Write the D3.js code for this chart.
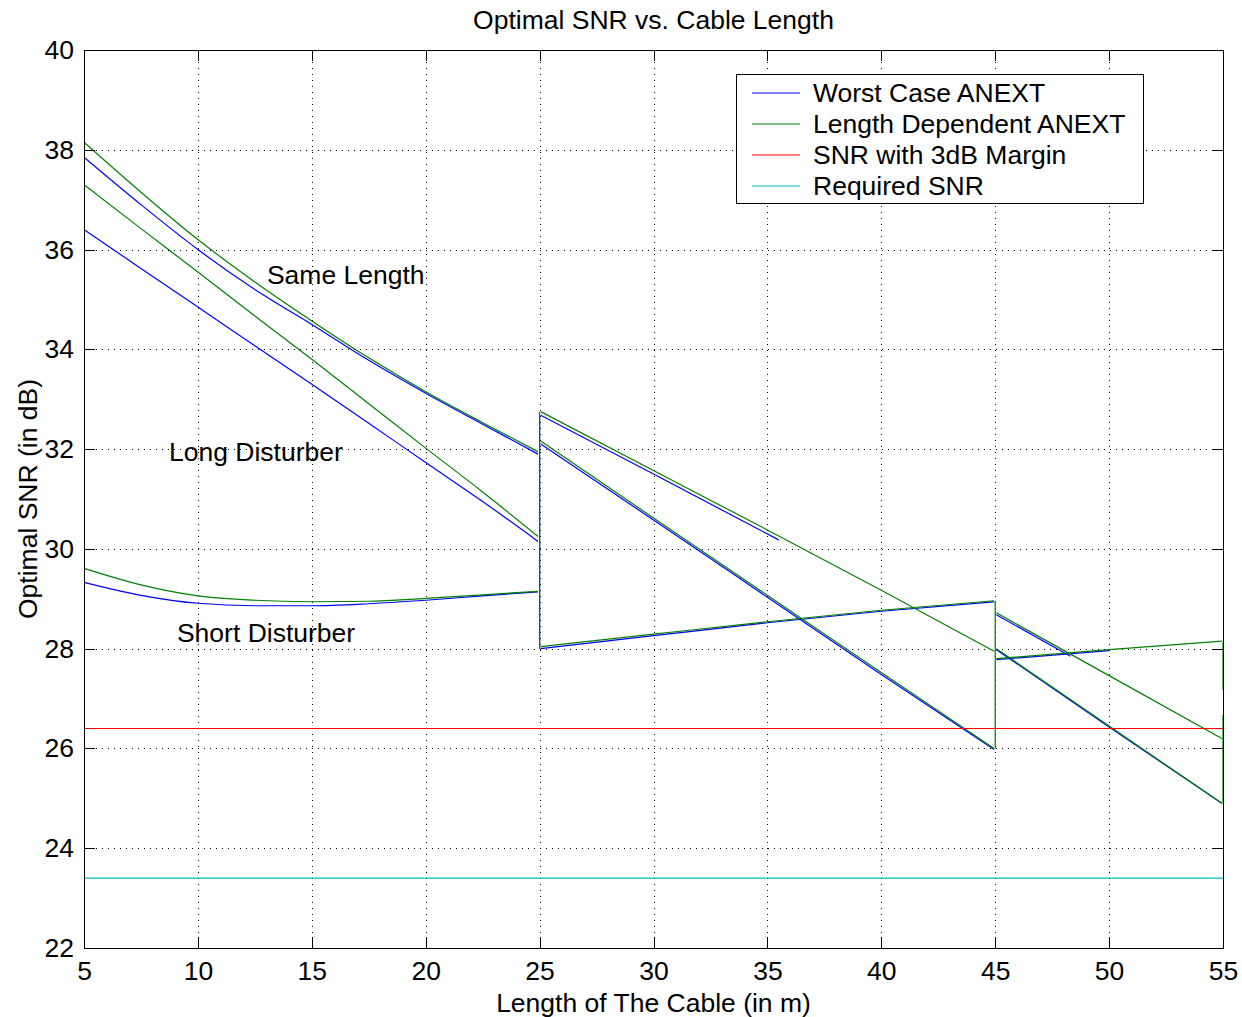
<!DOCTYPE html>
<html>
<head>
<meta charset="utf-8">
<script src="https://cdn.jsdelivr.net/npm/d3@7/dist/d3.min.js"></script>
<style>
  body { margin: 0; background: #fff; }
  text { font-family: "Liberation Sans", Arial, sans-serif; fill: #000; }
</style>
</head>
<body>
<div id="chart"></div>
<script>
// values
let xTicks = [5, 10, 15, 20, 25, 30, 35, 40, 45, 50, 55];
let yTicks = [22, 24, 26, 28, 30, 32, 34, 36, 38, 40];

// worst case ANEXT (blue), one array per drawn piece
let worstSame1  = [[5, 37.85], [7.5, 36.9], [10, 36.0], [12.5, 35.2], [15, 34.5], [17.5, 33.78], [20, 33.12], [22.5, 32.5], [24.93, 31.9]];
let worstLong1  = [[5, 36.4], [7.5, 35.62], [10, 34.85], [12.5, 34.07], [15, 33.3], [17.5, 32.52], [20, 31.73], [22.5, 30.95], [24.93, 30.15]];
let worstShort1 = [[5, 29.33], [7.5, 29.07], [10, 28.91], [12.5, 28.86], [15, 28.86], [17.5, 28.9], [20, 28.97], [22.5, 29.06], [24.93, 29.14]];
let worstTop2   = [[25.05, 32.68], [30, 31.5], [35.5, 30.18]];
let worstMid2   = [[25.05, 32.1], [30, 30.58], [35, 29.03], [40, 27.48], [44.95, 25.98]];
let worstShort2 = [[25.05, 28.0], [30, 28.26], [35, 28.52], [40, 28.75], [44.95, 28.94]];
let worstTop3   = [[45.05, 28.68], [48.3, 27.85]];
let worstMid3   = [[45.05, 27.98], [50, 26.43], [54.95, 24.9]];
let worstShort3 = [[45.05, 27.78], [50, 27.96]];
let worstJumps  = [[25, 28.0, 32.7]];

// length dependent ANEXT (green)
let lenSame1  = [[5, 38.15], [7.5, 37.15], [10, 36.2], [12.5, 35.35], [15, 34.57], [17.5, 33.83], [20, 33.15], [22.5, 32.53], [24.93, 31.95]];
let lenLong1  = [[5, 37.3], [7.5, 36.42], [10, 35.55], [12.5, 34.67], [15, 33.8], [17.5, 32.91], [20, 32.02], [22.5, 31.14], [24.93, 30.25]];
let lenShort1 = [[5, 29.61], [7.5, 29.28], [10, 29.06], [12.5, 28.97], [15, 28.94], [17.5, 28.95], [20, 29.01], [22.5, 29.08], [24.93, 29.15]];
let lenTop2   = [[25.05, 32.75], [30, 31.57], [35, 30.38], [40, 29.17], [44.95, 27.95]];
let lenMid2   = [[25.05, 32.16], [30, 30.62], [35, 29.07], [40, 27.52], [44.95, 26.0]];
let lenShort2 = [[25.05, 28.04], [30, 28.29], [35, 28.54], [40, 28.77], [44.95, 28.96]];
let lenTop3   = [[45.05, 28.72], [50, 27.46], [54.95, 26.2]];
let lenMid3   = [[45.05, 28.0], [50, 26.45], [54.95, 24.9]];
let lenShort3 = [[45.05, 27.8], [50, 27.98], [54.95, 28.15]];
let lenJumps  = [[25, 28.0, 32.75], [45, 26.0, 28.96], [55, 27.17, 28.14], [55, 24.9, 26.67]];

let marginSNR   = 26.4;
let requiredSNR = 23.4;

let legendNames  = ['Worst Case ANEXT', 'Length Dependent ANEXT', 'SNR with 3dB Margin', 'Required SNR'];
let legendColors = ['#0000ff', '#008000', '#ff0000', '#00bfbf'];

let notes = [
  {label: 'Same Length',     x: 13.03, y: 35.3},
  {label: 'Long Disturber',  x: 8.73,  y: 31.76},
  {label: 'Short Disturber', x: 9.08,  y: 28.13}
];

let chart_width  = 1242;
let chart_height = 1017;
let plotLeft = 84, plotRight = 1223, plotTop = 50, plotBottom = 948;
let fontSize = 26.5;

let svg = d3.select('#chart')
            .append('svg')
            .attr('width', chart_width)
            .attr('height', chart_height);

svg.append('rect')
   .attr('width', chart_width)
   .attr('height', chart_height)
   .attr('fill', '#fff');

let x_scale = d3.scaleLinear().domain([5, 55]).range([plotLeft, plotRight]);
let y_scale = d3.scaleLinear().domain([22, 40]).range([plotBottom, plotTop]);

//grid
let grid = svg.append('g')
              .attr('stroke', '#000')
              .attr('stroke-width', 1)
              .attr('stroke-dasharray', '1,5')
              .attr('shape-rendering', 'crispEdges');

grid.selectAll('.gx')
    .data(xTicks.slice(1, -1))
    .enter()
    .append('line')
    .attr('x1', d => Math.round(x_scale(d)) + 0.5)
    .attr('x2', d => Math.round(x_scale(d)) + 0.5)
    .attr('y1', plotTop)
    .attr('y2', plotBottom);

grid.selectAll('.gy')
    .data(yTicks.slice(1, -1))
    .enter()
    .append('line')
    .attr('y1', d => Math.round(y_scale(d)) + 0.5)
    .attr('y2', d => Math.round(y_scale(d)) + 0.5)
    .attr('x1', plotLeft)
    .attr('x2', plotRight);

//lines
let line = d3.line()
             .curve(d3.curveMonotoneX)
             .x(d => x_scale(d[0]))
             .y(d => y_scale(d[1]));

let plot = svg.append('g').attr('fill', 'none').attr('stroke-width', 1.2);

function drawSeries(pieces, jumps, color) {
  pieces.forEach(p => {
    plot.append('path')
        .attr('d', line(p))
        .attr('stroke', color);
  });
  jumps.forEach(j => {
    plot.append('line')
        .attr('x1', x_scale(j[0]))
        .attr('x2', x_scale(j[0]))
        .attr('y1', y_scale(j[1]))
        .attr('y2', y_scale(j[2]))
        .attr('stroke', color);
  });
}

drawSeries([worstSame1, worstLong1, worstShort1, worstTop2, worstMid2, worstShort2, worstTop3, worstMid3, worstShort3],
           worstJumps, legendColors[0]);
drawSeries([lenSame1, lenLong1, lenShort1, lenTop2, lenMid2, lenShort2, lenTop3, lenMid3, lenShort3],
           lenJumps, legendColors[1]);

plot.append('line')
    .attr('x1', x_scale(5))
    .attr('x2', x_scale(55))
    .attr('y1', y_scale(marginSNR))
    .attr('y2', y_scale(marginSNR))
    .attr('stroke', legendColors[2]);

plot.append('line')
    .attr('x1', x_scale(5))
    .attr('x2', x_scale(55))
    .attr('y1', y_scale(requiredSNR))
    .attr('y2', y_scale(requiredSNR))
    .attr('stroke', legendColors[3]);

//axis (ticks pointing in, on all four sides)
let x_bottom = d3.axisBottom(x_scale).tickValues(xTicks).tickSizeInner(-11).tickSizeOuter(0).tickPadding(13);
let x_top    = d3.axisTop(x_scale).tickValues(xTicks).tickSizeInner(-11).tickSizeOuter(0).tickFormat('');
let y_left   = d3.axisLeft(y_scale).tickValues(yTicks).tickSizeInner(-11).tickSizeOuter(0).tickPadding(10);
let y_right  = d3.axisRight(y_scale).tickValues(yTicks).tickSizeInner(-11).tickSizeOuter(0).tickFormat('');

function styleAxis(g) {
  g.selectAll('.domain').remove();
  g.selectAll('line').attr('stroke', '#000').attr('shape-rendering', 'crispEdges');
  g.selectAll('text').attr('font-size', fontSize).attr('fill', '#000')
   .attr('font-family', '"Liberation Sans", Arial, sans-serif');
}

svg.append('g').attr('transform', 'translate(0,' + plotBottom + ')').call(x_bottom).call(styleAxis);
svg.append('g').attr('transform', 'translate(0,' + plotTop + ')').call(x_top).call(styleAxis);
svg.append('g').attr('transform', 'translate(' + plotLeft + ',0)').call(y_left).call(styleAxis);
svg.append('g').attr('transform', 'translate(' + plotRight + ',0)').call(y_right).call(styleAxis);

svg.append('rect')
   .attr('x', plotLeft + 0.5)
   .attr('y', plotTop + 0.5)
   .attr('width', plotRight - plotLeft)
   .attr('height', plotBottom - plotTop)
   .attr('fill', 'none')
   .attr('stroke', '#000')
   .attr('shape-rendering', 'crispEdges');

//notes
svg.selectAll('.note')
   .data(notes)
   .enter()
   .append('text')
   .attr('x', d => x_scale(d.x))
   .attr('y', d => y_scale(d.y))
   .attr('font-size', fontSize)
   .text(d => d.label);

//titles
svg.append('text')
   .attr('x', (plotLeft + plotRight) / 2)
   .attr('y', 29)
   .attr('text-anchor', 'middle')
   .attr('font-size', fontSize)
   .text('Optimal SNR vs. Cable Length');

svg.append('text')
   .attr('x', (plotLeft + plotRight) / 2)
   .attr('y', 1012)
   .attr('text-anchor', 'middle')
   .attr('font-size', fontSize)
   .text('Length of The Cable (in m)');

svg.append('text')
   .attr('transform', 'translate(37,' + (plotTop + plotBottom) / 2 + ') rotate(-90)')
   .attr('text-anchor', 'middle')
   .attr('font-size', fontSize)
   .text('Optimal SNR (in dB)');

//legend
let legend = svg.append('g').attr('transform', 'translate(736,74)');

legend.append('rect')
      .attr('x', 0.5)
      .attr('y', 0.5)
      .attr('width', 407)
      .attr('height', 129)
      .attr('fill', '#fff')
      .attr('stroke', '#000')
      .attr('shape-rendering', 'crispEdges');

let rows = legend.selectAll('.row')
                 .data(legendNames)
                 .enter()
                 .append('g')
                 .attr('transform', (d, i) => 'translate(0,' + (19 + i * 31) + ')');

rows.append('line')
    .attr('x1', 16)
    .attr('x2', 64)
    .attr('stroke', (d, i) => legendColors[i])
    .attr('stroke-width', 1.2);

rows.append('text')
    .attr('x', 77)
    .attr('y', 9)
    .attr('font-size', fontSize)
    .text(d => d);
</script>
</body>
</html>
